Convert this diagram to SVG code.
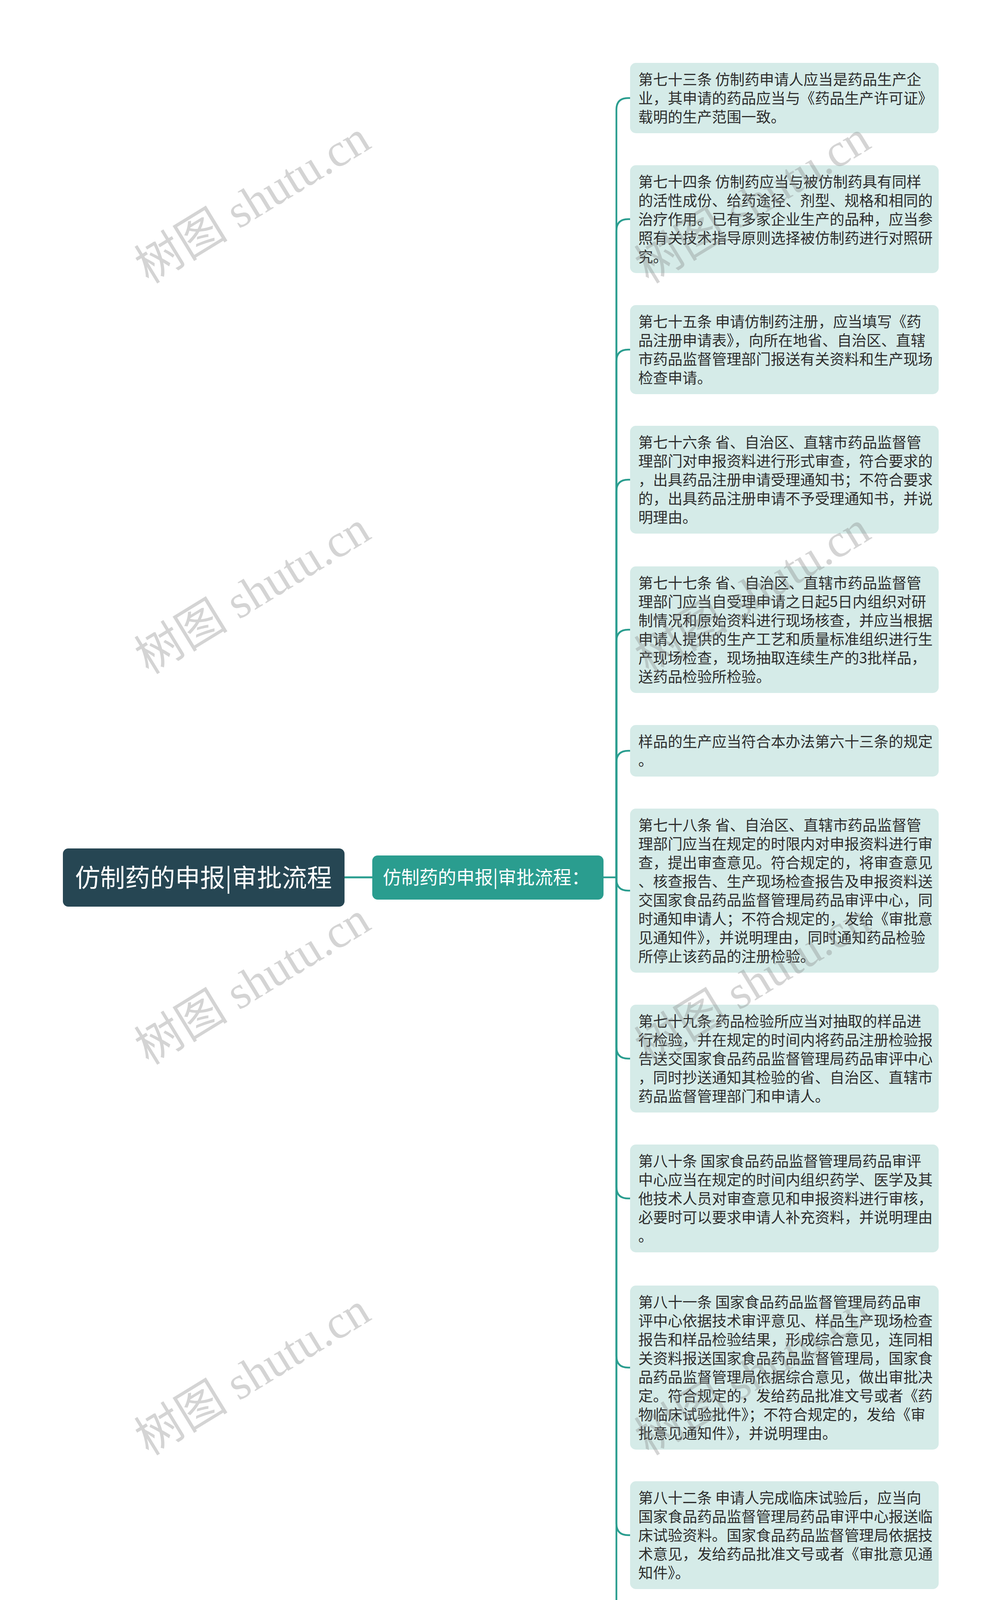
<svg xmlns="http://www.w3.org/2000/svg" width="2560" height="4493" viewBox="0 0 2560 4493">
<style>
.box{fill:#d5ebe8}
.t{font-family:"Noto Sans CJK SC","Noto Sans",sans-serif;font-size:37.7px;fill:#2e2e2e}
.wm{font-family:"Liberation Serif","Noto Sans CJK SC",serif;font-size:120px;fill:#808080;fill-opacity:0.34}
.c{fill:none;stroke:#2a9d8f;stroke-width:4.5;stroke-linecap:round;stroke-linejoin:round}
</style>
<rect x="0" y="0" width="2560" height="4493" fill="#ffffff"/>
<g id="connectors">
<path class="c" d="M882,2246 H953" style="stroke-width:5"/>
<path class="c" d="M1545,2246 H1578 V281 Q1578,251 1608,251 H1613"/>
<path class="c" d="M1578,2246 V591 Q1578,561 1608,561 H1613"/>
<path class="c" d="M1578,2246 V925 Q1578,895 1608,895 H1613"/>
<path class="c" d="M1578,2246 V1258 Q1578,1228 1608,1228 H1613"/>
<path class="c" d="M1578,2246 V1642 Q1578,1612 1608,1612 H1613"/>
<path class="c" d="M1578,2246 V1952 Q1578,1922 1608,1922 H1613"/>
<path class="c" d="M1578,2246 V2250 Q1578,2280 1608,2280 H1613"/>
<path class="c" d="M1578,2246 V2680 Q1578,2710 1608,2710 H1613"/>
<path class="c" d="M1578,2246 V3038 Q1578,3068 1608,3068 H1613"/>
<path class="c" d="M1578,2246 V3471 Q1578,3501 1608,3501 H1613"/>
<path class="c" d="M1578,2246 V3900 Q1578,3930 1608,3930 H1613"/>
<path class="c" d="M1578,2246 V4211 Q1578,4241 1608,4241 H1613"/>
</g>
<g id="root">
<rect x="161" y="2172" width="721" height="149" rx="14" fill="#264653"/>
<text x="521" y="2270" text-anchor="middle" style="font-family:'Noto Sans CJK SC','Noto Sans',sans-serif;font-size:64px;fill:#ffffff">仿制药的申报|审批流程</text>
</g>
<g id="mid">
<rect x="953" y="2190" width="592" height="113" rx="14" fill="#2a9d8f"/>
<text x="980" y="2263" style="font-family:'Noto Sans CJK SC','Noto Sans',sans-serif;font-size:47px;fill:#ffffff">仿制药的申报|审批流程：</text>
</g>
<g id="n1">
<rect class="box" x="1613" y="161" width="790" height="180" rx="15"/>
<text class="t"><tspan x="1634" y="217">第七十三条 仿制药申请人应当是药品生产企</tspan><tspan x="1634" y="265">业，其申请的药品应当与《药品生产许可证》</tspan><tspan x="1634" y="313">载明的生产范围一致。</tspan></text>
</g>
<g id="n2">
<rect class="box" x="1613" y="423" width="790" height="276" rx="15"/>
<text class="t"><tspan x="1634" y="479">第七十四条 仿制药应当与被仿制药具有同样</tspan><tspan x="1634" y="527">的活性成份、给药途径、剂型、规格和相同的</tspan><tspan x="1634" y="575">治疗作用。已有多家企业生产的品种，应当参</tspan><tspan x="1634" y="623">照有关技术指导原则选择被仿制药进行对照研</tspan><tspan x="1634" y="671">究。</tspan></text>
</g>
<g id="n3">
<rect class="box" x="1613" y="781" width="790" height="228" rx="15"/>
<text class="t"><tspan x="1634" y="837">第七十五条 申请仿制药注册，应当填写《药</tspan><tspan x="1634" y="885">品注册申请表》，向所在地省、自治区、直辖</tspan><tspan x="1634" y="933">市药品监督管理部门报送有关资料和生产现场</tspan><tspan x="1634" y="981">检查申请。</tspan></text>
</g>
<g id="n4">
<rect class="box" x="1613" y="1090" width="790" height="276" rx="15"/>
<text class="t"><tspan x="1634" y="1146">第七十六条 省、自治区、直辖市药品监督管</tspan><tspan x="1634" y="1194">理部门对申报资料进行形式审查，符合要求的</tspan><tspan x="1634" y="1242">，出具药品注册申请受理通知书；不符合要求</tspan><tspan x="1634" y="1290">的，出具药品注册申请不予受理通知书，并说</tspan><tspan x="1634" y="1338">明理由。</tspan></text>
</g>
<g id="n5">
<rect class="box" x="1613" y="1450" width="790" height="324" rx="15"/>
<text class="t"><tspan x="1634" y="1506">第七十七条 省、自治区、直辖市药品监督管</tspan><tspan x="1634" y="1554">理部门应当自受理申请之日起5日内组织对研</tspan><tspan x="1634" y="1602">制情况和原始资料进行现场核查，并应当根据</tspan><tspan x="1634" y="1650">申请人提供的生产工艺和质量标准组织进行生</tspan><tspan x="1634" y="1698">产现场检查，现场抽取连续生产的3批样品，</tspan><tspan x="1634" y="1746">送药品检验所检验。</tspan></text>
</g>
<g id="n6">
<rect class="box" x="1613" y="1856" width="790" height="132" rx="15"/>
<text class="t"><tspan x="1634" y="1912">样品的生产应当符合本办法第六十三条的规定</tspan><tspan x="1634" y="1960">。</tspan></text>
</g>
<g id="n7">
<rect class="box" x="1613" y="2070" width="790" height="420" rx="15"/>
<text class="t"><tspan x="1634" y="2126">第七十八条 省、自治区、直辖市药品监督管</tspan><tspan x="1634" y="2174">理部门应当在规定的时限内对申报资料进行审</tspan><tspan x="1634" y="2222">查，提出审查意见。符合规定的，将审查意见</tspan><tspan x="1634" y="2270">、核查报告、生产现场检查报告及申报资料送</tspan><tspan x="1634" y="2318">交国家食品药品监督管理局药品审评中心，同</tspan><tspan x="1634" y="2366">时通知申请人；不符合规定的，发给《审批意</tspan><tspan x="1634" y="2414">见通知件》，并说明理由，同时通知药品检验</tspan><tspan x="1634" y="2462">所停止该药品的注册检验。</tspan></text>
</g>
<g id="n8">
<rect class="box" x="1613" y="2572" width="790" height="276" rx="15"/>
<text class="t"><tspan x="1634" y="2628">第七十九条 药品检验所应当对抽取的样品进</tspan><tspan x="1634" y="2676">行检验，并在规定的时间内将药品注册检验报</tspan><tspan x="1634" y="2724">告送交国家食品药品监督管理局药品审评中心</tspan><tspan x="1634" y="2772">，同时抄送通知其检验的省、自治区、直辖市</tspan><tspan x="1634" y="2820">药品监督管理部门和申请人。</tspan></text>
</g>
<g id="n9">
<rect class="box" x="1613" y="2930" width="790" height="276" rx="15"/>
<text class="t"><tspan x="1634" y="2986">第八十条 国家食品药品监督管理局药品审评</tspan><tspan x="1634" y="3034">中心应当在规定的时间内组织药学、医学及其</tspan><tspan x="1634" y="3082">他技术人员对审查意见和申报资料进行审核，</tspan><tspan x="1634" y="3130">必要时可以要求申请人补充资料，并说明理由</tspan><tspan x="1634" y="3178">。</tspan></text>
</g>
<g id="n10">
<rect class="box" x="1613" y="3291" width="790" height="420" rx="15"/>
<text class="t"><tspan x="1634" y="3347">第八十一条 国家食品药品监督管理局药品审</tspan><tspan x="1634" y="3395">评中心依据技术审评意见、样品生产现场检查</tspan><tspan x="1634" y="3443">报告和样品检验结果，形成综合意见，连同相</tspan><tspan x="1634" y="3491">关资料报送国家食品药品监督管理局，国家食</tspan><tspan x="1634" y="3539">品药品监督管理局依据综合意见，做出审批决</tspan><tspan x="1634" y="3587">定。符合规定的，发给药品批准文号或者《药</tspan><tspan x="1634" y="3635">物临床试验批件》；不符合规定的，发给《审</tspan><tspan x="1634" y="3683">批意见通知件》，并说明理由。</tspan></text>
</g>
<g id="n11">
<rect class="box" x="1613" y="3792" width="790" height="276" rx="15"/>
<text class="t"><tspan x="1634" y="3848">第八十二条 申请人完成临床试验后，应当向</tspan><tspan x="1634" y="3896">国家食品药品监督管理局药品审评中心报送临</tspan><tspan x="1634" y="3944">床试验资料。国家食品药品监督管理局依据技</tspan><tspan x="1634" y="3992">术意见，发给药品批准文号或者《审批意见通</tspan><tspan x="1634" y="4040">知件》。</tspan></text>
</g>
<g id="n12">
<rect class="box" x="1613" y="4151" width="790" height="180" rx="15"/>
<text class="t"><tspan x="1634" y="4207">第八十三条 已确认存在安全性问题的上市药</tspan><tspan x="1634" y="4255">品，国家食品药品监督管理局可以决定暂停受</tspan><tspan x="1634" y="4303">理和审批其仿制药申请。</tspan></text>
</g>
<g id="watermarks">
<text class="wm" text-anchor="middle" transform="translate(647,518) rotate(-31.5)" y="40">树图 shutu.cn</text>
<text class="wm" text-anchor="middle" transform="translate(1927,518) rotate(-31.5)" y="40">树图 shutu.cn</text>
<text class="wm" text-anchor="middle" transform="translate(647,1518) rotate(-31.5)" y="40">树图 shutu.cn</text>
<text class="wm" text-anchor="middle" transform="translate(1927,1518) rotate(-31.5)" y="40">树图 shutu.cn</text>
<text class="wm" text-anchor="middle" transform="translate(647,2518) rotate(-31.5)" y="40">树图 shutu.cn</text>
<text class="wm" text-anchor="middle" transform="translate(1927,2518) rotate(-31.5)" y="40">树图 shutu.cn</text>
<text class="wm" text-anchor="middle" transform="translate(647,3518) rotate(-31.5)" y="40">树图 shutu.cn</text>
<text class="wm" text-anchor="middle" transform="translate(1927,3518) rotate(-31.5)" y="40">树图 shutu.cn</text>
<text class="wm" text-anchor="middle" transform="translate(647,4518) rotate(-31.5)" y="40">树图 shutu.cn</text>
<text class="wm" text-anchor="middle" transform="translate(1927,4518) rotate(-31.5)" y="40">树图 shutu.cn</text>
</g>
</svg>
